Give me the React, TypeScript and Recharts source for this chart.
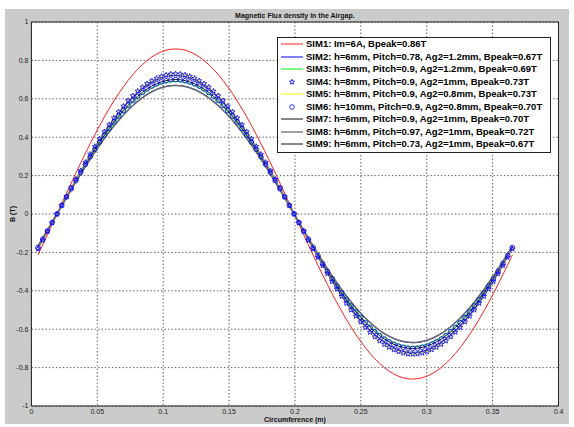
import React from 'react'
import { LineChart, Line, XAxis, YAxis, CartesianGrid, ReferenceArea, Legend, Label } from 'recharts'

// circumference positions (m) of the sampled points
const X_FINE = [
  0.005, 0.0086, 0.0122, 0.0158, 0.0194, 0.023, 0.0266, 0.0302, 0.0338, 0.0374,
  0.041, 0.0446, 0.0482, 0.0518, 0.0554, 0.059, 0.0626, 0.0662, 0.0698, 0.0734,
  0.077, 0.0806, 0.0842, 0.0878, 0.0914, 0.095, 0.0986, 0.1022, 0.1058, 0.1094,
  0.113, 0.1166, 0.1202, 0.1238, 0.1274, 0.131, 0.1346, 0.1382, 0.1418, 0.1454,
  0.149, 0.1526, 0.1562, 0.1598, 0.1634, 0.167, 0.1706, 0.1742, 0.1778, 0.1814,
  0.185, 0.1886, 0.1922, 0.1958, 0.1994, 0.203, 0.2066, 0.2102, 0.2138, 0.2174,
  0.221, 0.2246, 0.2282, 0.2318, 0.2354, 0.239, 0.2426, 0.2462, 0.2498, 0.2534,
  0.257, 0.2606, 0.2642, 0.2678, 0.2714, 0.275, 0.2786, 0.2822, 0.2858, 0.2894,
  0.293, 0.2966, 0.3002, 0.3038, 0.3074, 0.311, 0.3146, 0.3182, 0.3218, 0.3254,
  0.329, 0.3326, 0.3362, 0.3398, 0.3434, 0.347, 0.3506, 0.3542, 0.3578, 0.3614,
  0.365,
]

const X_COARSE = [
  0.005, 0.0194, 0.0338, 0.0482, 0.0626, 0.077, 0.0914, 0.1058, 0.1202, 0.1346,
  0.149, 0.1634, 0.1778, 0.1922, 0.2066, 0.221, 0.2354, 0.2498, 0.2642, 0.2786,
  0.293, 0.3074, 0.3218, 0.3362, 0.3506, 0.365,
]

const SIM1 = [-0.214, 0, 0.214, 0.414, 0.589, 0.726, 0.818, 0.858, 0.845, 0.778, 0.663, 0.506, 0.317, 0.108, -0.108, -0.317, -0.506, -0.663, -0.778, -0.845, -0.858, -0.818, -0.726, -0.589, -0.414, -0.214]
const SIM2 = [-0.167, 0, 0.167, 0.323, 0.459, 0.566, 0.637, 0.669, 0.658, 0.606, 0.516, 0.394, 0.247, 0.084, -0.084, -0.247, -0.394, -0.516, -0.606, -0.658, -0.669, -0.637, -0.566, -0.459, -0.323, -0.167]
const SIM3 = [-0.172, 0, 0.172, 0.332, 0.472, 0.583, 0.656, 0.689, 0.678, 0.624, 0.532, 0.406, 0.254, 0.086, -0.086, -0.254, -0.406, -0.532, -0.624, -0.678, -0.689, -0.656, -0.583, -0.472, -0.332, -0.172]
const SIM5 = [-0.182, 0, 0.182, 0.352, 0.500, 0.616, 0.694, 0.729, 0.717, 0.661, 0.562, 0.429, 0.269, 0.091, -0.091, -0.269, -0.429, -0.562, -0.661, -0.717, -0.729, -0.694, -0.616, -0.500, -0.352, -0.182]
const SIM7 = [-0.174, 0, 0.174, 0.337, 0.479, 0.591, 0.666, 0.699, 0.688, 0.633, 0.539, 0.411, 0.258, 0.088, -0.088, -0.258, -0.411, -0.539, -0.633, -0.688, -0.699, -0.666, -0.591, -0.479, -0.337, -0.174]
const SIM8 = [-0.179, 0, 0.179, 0.347, 0.493, 0.608, 0.685, 0.719, 0.707, 0.651, 0.555, 0.423, 0.265, 0.090, -0.090, -0.265, -0.423, -0.555, -0.651, -0.707, -0.719, -0.685, -0.608, -0.493, -0.347, -0.179]
const SIM9 = [-0.166, 0, 0.167, 0.322, 0.458, 0.565, 0.637, 0.668, 0.658, 0.605, 0.516, 0.393, 0.247, 0.084, -0.084, -0.246, -0.393, -0.516, -0.606, -0.657, -0.668, -0.637, -0.565, -0.458, -0.323, -0.167]

// marker series, one value per sample
const SIM4 = [
  -0.182, -0.137, -0.091, -0.046,
  0, 0.046, 0.091, 0.137, 0.182, 0.226, 0.269, 0.311, 0.352, 0.391,
  0.429, 0.465, 0.500, 0.532, 0.562, 0.591, 0.616, 0.640, 0.661, 0.679,
  0.694, 0.707, 0.717, 0.724, 0.729, 0.730,
  0.729, 0.724, 0.717, 0.707, 0.694, 0.679, 0.661, 0.640, 0.616, 0.591,
  0.562, 0.532, 0.500, 0.465, 0.429, 0.391, 0.352, 0.311, 0.269, 0.226,
  0.182, 0.137, 0.091, 0.046, 0,
  -0.046, -0.091, -0.137, -0.182, -0.226, -0.269, -0.311, -0.352, -0.391, -0.429,
  -0.465, -0.500, -0.532, -0.562, -0.591, -0.616, -0.640, -0.661, -0.679, -0.694,
  -0.707, -0.717, -0.724, -0.729, -0.730,
  -0.729, -0.724, -0.717, -0.707, -0.694, -0.679, -0.661, -0.640, -0.616, -0.591,
  -0.562, -0.532, -0.500, -0.465, -0.429, -0.391, -0.352, -0.311, -0.269, -0.226,
  -0.182,
]
const SIM6 = [
  -0.174, -0.131, -0.088, -0.044,
  0, 0.044, 0.088, 0.131, 0.174, 0.216, 0.258, 0.298, 0.337, 0.375,
  0.411, 0.446, 0.479, 0.510, 0.539, 0.566, 0.591, 0.613, 0.633, 0.651,
  0.666, 0.678, 0.688, 0.694, 0.699, 0.700,
  0.699, 0.694, 0.688, 0.678, 0.666, 0.651, 0.633, 0.613, 0.591, 0.566,
  0.539, 0.510, 0.479, 0.446, 0.411, 0.375, 0.337, 0.298, 0.258, 0.216,
  0.174, 0.131, 0.088, 0.044, 0,
  -0.044, -0.088, -0.131, -0.174, -0.216, -0.258, -0.298, -0.337, -0.375, -0.411,
  -0.446, -0.479, -0.510, -0.539, -0.566, -0.591, -0.613, -0.633, -0.651, -0.666,
  -0.678, -0.688, -0.694, -0.699, -0.700,
  -0.699, -0.694, -0.688, -0.678, -0.666, -0.651, -0.633, -0.613, -0.591, -0.566,
  -0.539, -0.510, -0.479, -0.446, -0.411, -0.375, -0.337, -0.298, -0.258, -0.216,
  -0.174,
]

const X_TICKS = [0, 0.05, 0.1, 0.15, 0.2, 0.25, 0.3, 0.35, 0.4]
const Y_TICKS = [-1, -0.8, -0.6, -0.4, -0.2, 0, 0.2, 0.4, 0.6, 0.8, 1]

const NAMES = [
  'SIM1: Im=6A, Bpeak=0.86T',
  'SIM2: h=6mm, Pitch=0.78, Ag2=1.2mm, Bpeak=0.67T',
  'SIM3: h=6mm, Pitch=0.9, Ag2=1.2mm, Bpeak=0.69T',
  'SIM4: h=8mm, Pitch=0.9, Ag2=1mm, Bpeak=0.73T',
  'SIM5: h=8mm, Pitch=0.9, Ag2=0.8mm, Bpeak=0.73T',
  'SIM6: h=10mm, Pitch=0.9, Ag2=0.8mm, Bpeak=0.70T',
  'SIM7: h=6mm, Pitch=0.9, Ag2=1mm, Bpeak=0.70T',
  'SIM8: h=6mm, Pitch=0.97, Ag2=1mm, Bpeak=0.72T',
  'SIM9: h=6mm, Pitch=0.73, Ag2=1mm, Bpeak=0.67T',
]

type Marker = 'none' | 'star' | 'circle'
interface Series { name: string; xs: number[]; ys: number[]; color: string; width: number; marker: Marker }

const SERIES: Series[] = [
  { name: NAMES[0], xs: X_COARSE, ys: SIM1, color: '#ff2020', width: 1, marker: 'none' },
  { name: NAMES[1], xs: X_COARSE, ys: SIM2, color: '#0000ff', width: 1, marker: 'none' },
  { name: NAMES[2], xs: X_COARSE, ys: SIM3, color: '#00ee00', width: 1, marker: 'none' },
  { name: NAMES[3], xs: X_FINE, ys: SIM4, color: '#0000ff', width: 0.7, marker: 'star' },
  { name: NAMES[4], xs: X_COARSE, ys: SIM5, color: '#f5f500', width: 1, marker: 'none' },
  { name: NAMES[5], xs: X_FINE, ys: SIM6, color: '#0000ff', width: 0.7, marker: 'circle' },
  { name: NAMES[6], xs: X_COARSE, ys: SIM7, color: '#111111', width: 1, marker: 'none' },
  { name: NAMES[7], xs: X_COARSE, ys: SIM8, color: '#8a8a8a', width: 1.6, marker: 'none' },
  { name: NAMES[8], xs: X_COARSE, ys: SIM9, color: '#6a6a78', width: 1.6, marker: 'none' },
]

const FONT = '"Liberation Sans", Arial, sans-serif'

function starPath(cx: number, cy: number, r: number) {
  const pts: string[] = []
  for (let i = 0; i < 10; i++) {
    const rad = i % 2 === 0 ? r : r * 0.42
    const a = -Math.PI / 2 + (i * Math.PI) / 5
    pts.push(`${(cx + rad * Math.cos(a)).toFixed(2)},${(cy + rad * Math.sin(a)).toFixed(2)}`)
  }
  return `M${pts.join('L')}Z`
}

function MarkerGlyph({ kind, cx, cy, color }: { kind: Marker; cx: number; cy: number; color: string }) {
  if (kind === 'star') return <path d={starPath(cx, cy, 2.7)} fill="none" stroke={color} strokeWidth={0.8} />
  if (kind === 'circle') return <circle cx={cx} cy={cy} r={2.3} fill="none" stroke={color} strokeWidth={0.8} />
  return null
}

function LegendBox() {
  return (
    <div style={{
      width: 274, height: 116, boxSizing: 'border-box',
      border: '1px solid #222', background: '#fff',
    }}>
      {SERIES.map(s => (
        <div key={s.name} style={{ display: 'flex', alignItems: 'center', height: 12.5 }}>
          <svg width={28} height={12} style={{ flex: 'none' }}>
            {s.marker === 'none'
              ? <line x1={3} x2={25} y1={6} y2={6} stroke={s.color} strokeWidth={s.width} />
              : <MarkerGlyph kind={s.marker} cx={14} cy={6} color={s.color} />}
          </svg>
          <span style={{
            fontFamily: FONT, fontWeight: 'bold', fontSize: 9.5, color: '#000',
            whiteSpace: 'nowrap', lineHeight: '12px',
          }}>
            {s.name}
          </span>
        </div>
      ))}
    </div>
  )
}

export default function App() {
  const tickStyle = { fontSize: 7, fill: '#222', fontFamily: FONT }
  return (
    <div style={{ position: 'absolute', left: 0, top: 0, width: 574, height: 427, background: '#fff' }}>
      <div style={{ position: 'absolute', left: 5, top: 9, width: 564, height: 415, background: '#cbcbcb' }} />
      <div style={{
        position: 'absolute', left: 31.4, top: 10, width: 527, textAlign: 'center',
        fontFamily: FONT, fontSize: 7, fontWeight: 'bold', color: '#111', lineHeight: '12px',
      }}>
        Magnetic Flux density in the Airgap.
      </div>
      <div style={{ position: 'absolute', left: 0, top: 0 }}>
        <LineChart width={574} height={427} margin={{ top: 22, right: 15.5, bottom: 0, left: 7.4 }}>
          <CartesianGrid fill="#fff" stroke="#666" strokeDasharray="1.5 2" horizontalValues={Y_TICKS} verticalValues={X_TICKS} />
          <XAxis dataKey="x" type="number" domain={[0, 0.4]} ticks={X_TICKS} allowDataOverflow
                 height={21} tickSize={0} tickMargin={3} tickLine={false} axisLine={false}
                 tick={tickStyle} interval={0}>
            <Label content={(p: any) => {
              const vb = p.viewBox
              return <text x={vb.x + vb.width / 2} y={vb.y + 16} textAnchor="middle"
                           fontFamily={FONT} fontSize={7} fontWeight="bold" fill="#111">Circumference (m)</text>
            }} />
          </XAxis>
          <YAxis type="number" domain={[-1, 1]} ticks={Y_TICKS} allowDataOverflow
                 width={24} tickSize={0} tickMargin={3} tickLine={false} axisLine={false}
                 tick={tickStyle} interval={0}>
            <Label content={(p: any) => {
              const vb = p.viewBox
              const cx = vb.x + 5
              const cy = vb.y + vb.height / 2
              return <text x={cx} y={cy} textAnchor="middle" dominantBaseline="central"
                           transform={`rotate(-90 ${cx} ${cy})`}
                           fontFamily={FONT} fontSize={7} fontWeight="bold" fill="#111">B (T)</text>
            }} />
          </YAxis>
          {SERIES.map(s => (
            <Line
              key={s.name}
              data={s.xs.map((x, i) => ({ x, y: s.ys[i] }))}
              dataKey="y"
              type="natural"
              stroke={s.marker === 'none' ? s.color : 'none'}
              strokeWidth={s.width}
              dot={s.marker === 'none' ? false : (p: any) => (
                <MarkerGlyph key={`${s.name}-${p.index}`} kind={s.marker} cx={p.cx} cy={p.cy} color={s.color} />
              )}
              activeDot={false}
              isAnimationActive={false}
              legendType="none"
            />
          ))}
          <ReferenceArea x1={0} x2={0.4} y1={-1} y2={1} fill="none" stroke="#222" strokeWidth={1} ifOverflow="visible" />
          <Legend layout="vertical" align="center" verticalAlign="middle"
                  wrapperStyle={{ left: 277, top: 37, width: 274, height: 116 }}
                  content={() => <LegendBox />} />
        </LineChart>
      </div>
    </div>
  )
}
